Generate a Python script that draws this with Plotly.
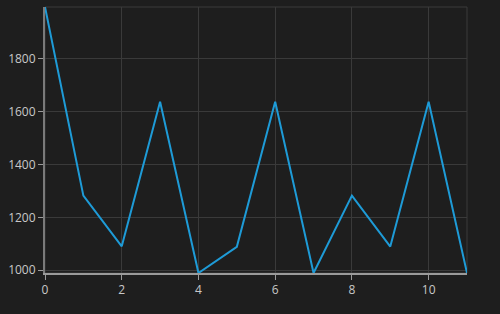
import plotly.graph_objects as go

x_vals = list(range(12))
y_vals = [1997, 1282, 1090, 1638, 989, 1088, 1638, 989, 1282, 1089, 1638, 989]

bg = "#1e1e1e"
grid = "#3a3a3a"

fig = go.Figure()
fig.add_trace(go.Scatter(x=x_vals, y=y_vals, mode="lines",
                         line=dict(color="#1e9bd7", width=2)))

fig.update_layout(
    width=500, height=314,
    paper_bgcolor=bg, plot_bgcolor=bg,
    margin=dict(l=45, r=33, t=7, b=41),
    showlegend=False,
    font=dict(family="Open Sans, sans-serif", size=12, color="#c8c8c8"),
    shapes=[dict(type="rect", xref="paper", yref="paper", x0=0, x1=1, y0=0, y1=1,
                 line=dict(color=grid, width=1), layer="below")],
)
fig.update_xaxes(range=[0, 11], tickmode="array", tickvals=[0, 2, 4, 6, 8, 10],
                 showgrid=True, gridcolor=grid, gridwidth=1, zeroline=False,
                 showline=True, linecolor="#9a9a9a", linewidth=2,
                 ticks="outside", ticklen=5, tickcolor="#9a9a9a")
fig.update_yaxes(range=[min(y_vals), max(y_vals)], tickmode="array",
                 tickvals=[1000, 1200, 1400, 1600, 1800],
                 showgrid=True, gridcolor=grid, gridwidth=1, zeroline=False,
                 showline=True, linecolor="#7a7a7a", linewidth=2,
                 ticks="outside", ticklen=5, tickcolor="#9a9a9a")

fig.write_html("out.html")
